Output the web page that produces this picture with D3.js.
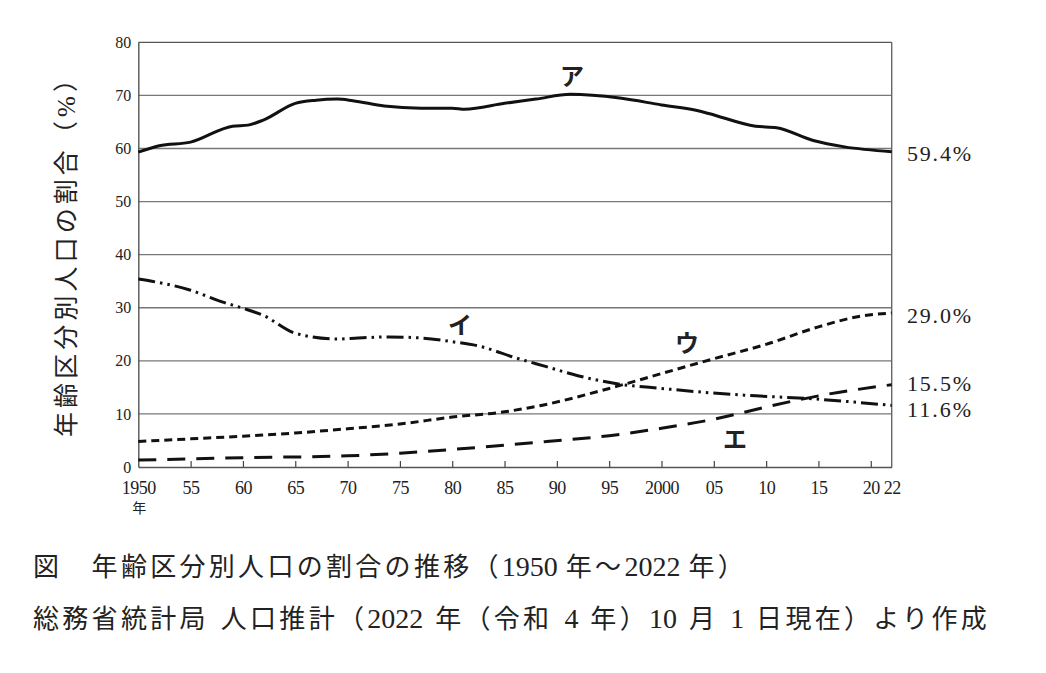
<!DOCTYPE html>
<html>
<head>
<meta charset="utf-8">
<script src="https://cdn.jsdelivr.net/npm/d3@7/dist/d3.min.js"></script>
<style>
  html, body { margin: 0; padding: 0; background: #fff; }
  svg { display: block; }
</style>
</head>
<body>
<svg id="chart" width="1046" height="673"></svg>
<script>
// ---- data ----
// ア: 15–64歳
const yearsA = [1950,1952,1955,1959,1960.5,1962,1965,1967,1969,1970.5,1973.5,1977,1980,1981.2,1985,1988,1991.3,1996,2000,2003.5,2004.5,2009,2011,2014.5,2017.5,2022];
const valuesA = [59.3,60.5,61.2,64.2,64.4,65.4,68.5,69.1,69.3,69.0,68.0,67.6,67.6,67.4,68.5,69.3,70.2,69.5,68.2,67.1,66.6,64.2,63.9,61.5,60.3,59.4];
// イ: 0–14歳
const yearsI = [1950,1955,1958,1960,1962,1965,1969,1971,1974,1977,1980,1982.5,1986,1989,1992,1996,2000,2004.5,2009,2014,2018,2022];
const valuesI = [35.4,33.3,31.1,29.9,28.5,25.2,24.1,24.3,24.5,24.3,23.6,22.8,20.6,18.9,17.2,15.6,14.8,14.0,13.4,12.9,12.3,11.6];
// ウ: 65歳以上
const yearsU = [1950,1955,1960,1965,1970,1975,1980,1985,1988.5,1995,2000,2005,2010,2015,2019,2022];
const valuesU = [4.8,5.3,5.8,6.4,7.2,8.1,9.4,10.4,11.6,14.8,17.6,20.4,23.1,26.4,28.4,29.0];
// エ: 75歳以上
const yearsE = [1950,1960,1970,1975,1980,1985,1989,1995,2000,2005,2010,2015,2022];
const valuesE = [1.3,1.75,2.1,2.6,3.3,4.1,4.8,5.9,7.3,9.0,11.3,13.4,15.5];

const seriesNames = ["ア","イ","ウ","エ"];
const endLabels = ["59.4%","11.6%","29.0%","15.5%"];
const xTickYears = [1950,1955,1960,1965,1970,1975,1980,1985,1990,1995,2000,2005,2010,2015,2020,2022];
const xTickLabels = ["1950","55","60","65","70","75","80","85","90","95","2000","05","10","15","20","22"];
const yTicks = [0,10,20,30,40,50,60,70,80];
const yTitle = "年齢区分別人口の割合（%）";
const caption1 = "図　年齢区分別人口の割合の推移（1950 年～2022 年）";
const caption2 = "総務省統計局 人口推計（2022 年（令和 4 年）10 月 1 日現在）より作成";

// ---- layout ----
const svg = d3.select("#chart");
const serif = "'Liberation Serif','DejaVu Serif','Noto Sans CJK JP',serif";
const jp = "'Noto Sans CJK JP','Noto Sans',sans-serif";
const mixed = "'Liberation Serif','Noto Sans CJK JP',serif";

svg.append("rect").attr("width",1046).attr("height",673).attr("fill","#fff");

const x = d3.scaleLinear().domain([1950,2022]).range([138.3,891.7]);
const y = d3.scaleLinear().domain([0,80]).range([467,42.3]);

// gridlines
svg.append("g").selectAll("line").data(yTicks.filter(d=>d>0)).join("line")
  .attr("x1",x(1950)).attr("x2",x(2022))
  .attr("y1",d=>y(d)).attr("y2",d=>y(d))
  .attr("stroke",d=>d===80?"#555":"#777").attr("stroke-width",1.3);

// right frame
svg.append("line").attr("x1",x(2022)).attr("x2",x(2022)).attr("y1",y(80)).attr("y2",y(0))
  .attr("stroke","#666").attr("stroke-width",1.4);

// y axis
const yAxis = svg.append("g").attr("transform",`translate(${x(1950)},0)`)
  .call(d3.axisLeft(y).tickValues(yTicks).tickSize(0).tickPadding(7));
yAxis.select(".domain").attr("stroke","#555").attr("stroke-width",1.4);
yAxis.selectAll("text").attr("font-family",serif).attr("font-size",16).attr("fill","#222");

// x axis
const xAxis = svg.append("g").attr("transform",`translate(0,${y(0)})`)
  .call(d3.axisBottom(x).tickValues(xTickYears).tickSizeInner(-6).tickSizeOuter(0).tickPadding(14)
    .tickFormat((d,i)=>xTickLabels[i]));
xAxis.select(".domain").attr("stroke","#555").attr("stroke-width",1.4);
xAxis.selectAll(".tick line").attr("stroke","#444").attr("stroke-width",1.2)
  .attr("display",d=>(d===1950||d===2022)?"none":null);
xAxis.selectAll("text").attr("font-family",serif).attr("font-size",18).attr("fill","#222")
  .attr("letter-spacing",-0.5);
svg.append("text").attr("x",x(1950)+1).attr("y",507).attr("text-anchor","middle")
  .attr("dominant-baseline","central").attr("font-family",jp).attr("font-size",14).attr("fill","#222").text("年");

// lines
const line = d3.line().x(d=>x(d[0])).y(d=>y(d[1])).curve(d3.curveMonotoneX);
const series = [
  {yrs:yearsA, vals:valuesA, dash:null},
  {yrs:yearsI, vals:valuesI, dash:"17 5 2.5 5 2.5 5"},
  {yrs:yearsU, vals:valuesU, dash:"8 5"},
  {yrs:yearsE, vals:valuesE, dash:"18 11"}
];
series.forEach(s=>{
  svg.append("path").datum(s.yrs.map((yr,i)=>[yr,s.vals[i]]))
    .attr("d",line).attr("fill","none").attr("stroke","#111")
    .attr("stroke-width",3).attr("stroke-dasharray",s.dash);
});

// series labels
const labelPos = [[572,74],[460,323],[687,341],[735,437]];
svg.append("g").selectAll("text").data(seriesNames).join("text")
  .attr("x",(d,i)=>labelPos[i][0]).attr("y",(d,i)=>labelPos[i][1])
  .attr("text-anchor","middle").attr("dominant-baseline","central")
  .attr("font-family",jp).attr("font-weight","bold").attr("font-size",24).attr("fill","#222").text(d=>d);

// end value labels
const endY = [153,409,315,383];
svg.append("g").selectAll("text").data(endLabels).join("text")
  .attr("x",907).attr("y",(d,i)=>endY[i]).attr("dominant-baseline","central")
  .attr("font-family",serif).attr("font-size",22).attr("fill","#222")
  .attr("textLength",64).attr("lengthAdjust","spacing").text(d=>d);

// y title
svg.append("text").attr("transform","translate(66,252) rotate(-90)")
  .attr("text-anchor","middle").attr("dominant-baseline","central")
  .attr("font-family",mixed).attr("font-size",25).attr("fill","#222")
  .attr("textLength",370).attr("lengthAdjust","spacing").text(yTitle);

// captions: CJK spaced to the reference pitch, digits tight in serif; remaining width goes into the spaces
function caption(str, yPos, target){
  const t = svg.append("text").attr("x",33).attr("y",yPos)
    .attr("font-family",mixed).attr("font-size",26).attr("fill","#222");
  const parts = str.split(/(\d+| )/).filter(s=>s.length);
  const gapSpans = [];
  let pending = false;
  parts.forEach(seg=>{
    if(seg===" "){ pending = true; return; }
    const isNum = /^\d+$/.test(seg);
    const sp = t.append("tspan").attr("font-size",isNum?28:26)
      .attr("letter-spacing",isNum?0:3.3).text(seg);
    if(pending){ gapSpans.push(sp); pending = false; }
  });
  const w = t.node().getComputedTextLength();
  const extra = gapSpans.length ? (target - w)/gapSpans.length : 0;
  gapSpans.forEach(sp=>sp.attr("dx",extra));
}
caption(caption1, 576, 714);
caption(caption2, 628, 957);
</script>
</body>
</html>
